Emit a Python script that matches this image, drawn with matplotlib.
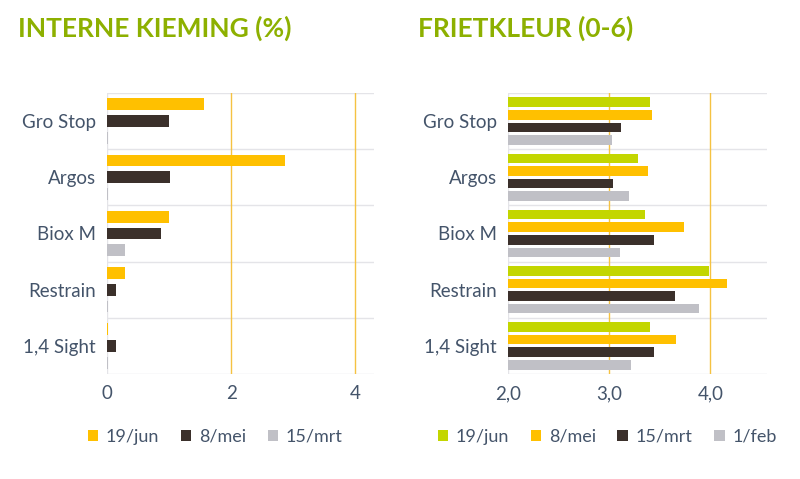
import matplotlib.pyplot as plt
import numpy as np

categories = ["Gro Stop", "Argos", "Biox M", "Restrain", "1,4 Sight"]

# Interne kieming (%)
kiem_labels = ["19/jun", "8/mei", "15/mrt"]
kiem_jun = [1.56, 2.87, 1.0, 0.29, 0.02]
kiem_mei = [1.0, 1.02, 0.87, 0.14, 0.14]
kiem_mrt = [0.02, 0.02, 0.29, 0.02, 0.02]

# Frietkleur (0-6)
fk_labels = ["19/jun", "8/mei", "15/mrt", "1/feb"]
fk_jun = [3.40, 3.28, 3.35, 3.99, 3.40]
fk_mei = [3.42, 3.38, 3.74, 4.16, 3.66]
fk_mrt = [3.12, 3.04, 3.44, 3.65, 3.44]
fk_feb = [3.03, 3.20, 3.11, 3.89, 3.22]

GREEN = "#C3D600"
YELLOW = "#FFC000"
DARK = "#3B302B"
GREY = "#C0C0C6"
TXT = "#44546A"
TITLE = "#8DB000"
plt.rcParams["font.family"] = "Lato"

fig = plt.figure(figsize=(8, 4.79), dpi=100)
W, H = 800, 479
ax1 = fig.add_axes([107 / W, 1 - 374 / H, 267 / W, 281 / H])
ax2 = fig.add_axes([508 / W, 1 - 374 / H, 259 / W, 281 / H])


def style(ax, xmin, xmax, ticks, ticklabels):
    n = len(categories)
    ax.set_ylim(n - 0.5, -0.5)
    ax.set_xlim(xmin, xmax)
    ax.set_yticks(range(n))
    ax.set_yticklabels(categories, fontsize=13.5, color=TXT)
    ax.set_xticks(ticks)
    ax.set_xticklabels(ticklabels, fontsize=13.5, color=TXT)
    ax.tick_params(length=0, pad=8)
    for s in ax.spines.values():
        s.set_visible(False)
    for y in np.arange(-0.5, n, 1.0):
        ax.axhline(y, color="#E4E4E8", lw=1, zorder=0)
    ax.axvline(xmin, color="#E4E4E8", lw=1, zorder=0)
    for t in ticks[1:]:
        ax.axvline(t, color="#F5C242", lw=1, zorder=0)


y = np.arange(len(categories))
for k, (vals, col) in enumerate(zip([kiem_jun, kiem_mei, kiem_mrt], [YELLOW, DARK, GREY])):
    ax1.barh(y + (k - 1) * 0.3, vals, height=0.21, color=col, zorder=2, label=kiem_labels[k])
style(ax1, 0, 4.3, [0, 2, 4], ["0", "2", "4"])

for k, (vals, col) in enumerate(zip([fk_jun, fk_mei, fk_mrt, fk_feb], [GREEN, YELLOW, DARK, GREY])):
    ax2.barh(y + (k - 1.5) * 0.225, np.array(vals) - 2.0, left=2.0, height=0.17,
             color=col, zorder=2, label=fk_labels[k])
style(ax2, 2.0, 4.56, [2, 3, 4], ["2,0", "3,0", "4,0"])

fig.text(18 / W, 1 - 28 / H, "INTERNE KIEMING (%)", fontsize=19, fontweight="bold", color=TITLE, va="center")
fig.text(418 / W, 1 - 28 / H, "FRIETKLEUR (0-6)", fontsize=19, fontweight="bold", color=TITLE, va="center")

for ax, x0 in [(ax1, 215), (ax2, 607)]:
    ax.legend(loc="center", bbox_to_anchor=(x0 / W, 1 - 437 / H), bbox_transform=fig.transFigure,
              ncol=4, frameon=False, fontsize=13, handlelength=0.6, handleheight=0.6,
              columnspacing=1.2, handletextpad=0.4, labelcolor=TXT)

fig.savefig("out.png", dpi=100)
